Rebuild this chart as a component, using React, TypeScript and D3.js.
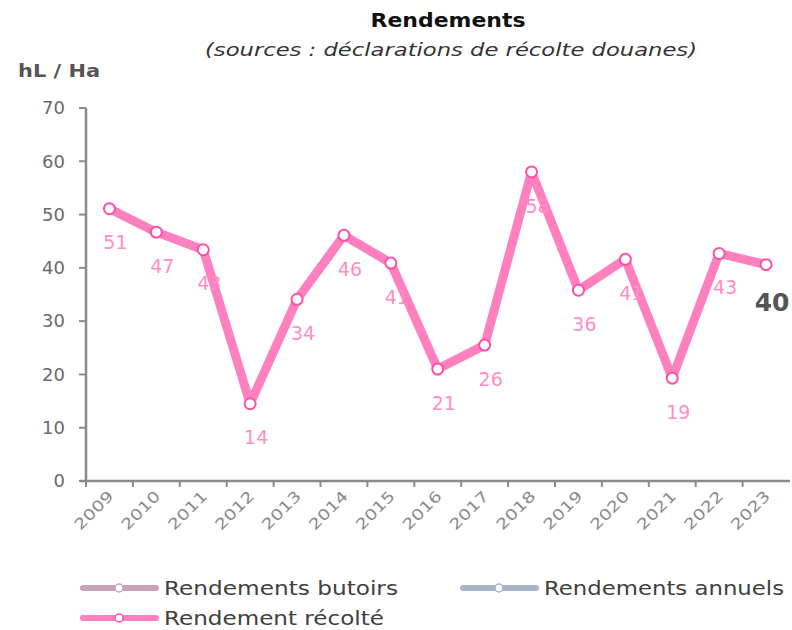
import React from "react";
import * as d3 from "d3";

const years = ["2009","2010","2011","2012","2013","2014","2015","2016","2017","2018","2019","2020","2021","2022","2023"];
const recolte = [51.1, 46.7, 43.4, 14.5, 34.1, 46.1, 40.9, 21.0, 25.5, 58.0, 35.8, 41.6, 19.3, 42.7, 40.6];
const recolteLabels = ["51","47","43","14","34","46","41","21","26","58","36","41","19","43","40"];
const yTicks = [0, 10, 20, 30, 40, 50, 60, 70];
const legendItems = [
  { name: "Rendements butoirs", color: "#c9a3ba" },
  { name: "Rendements annuels", color: "#a8b4c8" },
  { name: "Rendement récolté", color: "#ff80bf" },
];

const W = 792, H = 630;
const FONT = "'DejaVu Sans', sans-serif";

export default function App() {
  const x = d3.scaleBand<string>().domain(years).range([86, 789.5]).padding(0);
  const y = d3.scaleLinear().domain([0, 70]).range([481, 108]);
  const cx = (d: string) => (x(d) as number) + x.bandwidth() / 2;
  const line = d3.line<number>().x((_, i) => cx(years[i])).y((v) => y(v));
  const pink = "#ff80bf";
  const axisColor = "#8a8a8a";
  const last = recolte.length - 1;
  const legendLens = [234, 240, 220];

  return (
    <svg width={W} height={H} style={{ position: "absolute", left: 0, top: 0, background: "#fff" }}>
      <text x={448} y={27} textAnchor="middle" fontFamily={FONT} fontWeight="bold" fontSize={20} fill="#111" textLength={155} lengthAdjust="spacingAndGlyphs">Rendements</text>
      <text x={451} y={56} textAnchor="middle" fontFamily={FONT} fontStyle="italic" fontSize={17} fill="#333" textLength={492} lengthAdjust="spacingAndGlyphs">(sources : déclarations de récolte douanes)</text>
      <text x={18} y={77} fontFamily={FONT} fontWeight="bold" fontSize={17} fill="#555" textLength={82} lengthAdjust="spacingAndGlyphs">hL / Ha</text>

      {/* y axis */}
      <line x1={86} x2={86} y1={y(70)} y2={y(0)} stroke={axisColor} strokeWidth={2.5} />
      {yTicks.map((t) => (
        <g key={t}>
          <line x1={79} x2={86} y1={y(t)} y2={y(t)} stroke={axisColor} strokeWidth={2} />
          <text x={65} y={y(t)} dy="0.35em" textAnchor="end" fontFamily={FONT} fontSize={18} fill="#6a6a6a">{t}</text>
        </g>
      ))}

      {/* x axis */}
      <line x1={80} x2={790} y1={y(0)} y2={y(0)} stroke={axisColor} strokeWidth={2.5} />
      {years.map((yr) => (
        <line key={"t" + yr} x1={x(yr) as number} x2={x(yr) as number} y1={y(0)} y2={y(0) + 6} stroke={axisColor} strokeWidth={2} />
      ))}
      {years.map((yr) => (
        <text key={"l" + yr} transform={`translate(${cx(yr) + 5},${y(0) + 16}) rotate(-45)`} textAnchor="end" fontFamily={FONT} fontSize={15} fill="#8a8a8a" textLength={48} lengthAdjust="spacingAndGlyphs">{yr}</text>
      ))}

      {/* series */}
      <path d={line(recolte) || ""} fill="none" stroke={pink} strokeWidth={9} strokeLinejoin="round" />
      {recolte.map((v, i) => (
        <circle key={"c" + i} cx={cx(years[i])} cy={y(v)} r={5.5} fill="#fff" stroke="#ff4fa6" strokeWidth={2} />
      ))}
      {recolte.map((v, i) =>
        i === last ? (
          <text key={"v" + i} x={cx(years[i]) + 6} y={y(v) + 38} dy="0.35em" textAnchor="middle" fontFamily={FONT} fontWeight="bold" fontSize={25} fill="#555">{recolteLabels[i]}</text>
        ) : (
          <text key={"v" + i} x={cx(years[i]) + 6} y={y(v) + 34} dy="0.35em" textAnchor="middle" fontFamily={FONT} fontSize={19} fill="#ff8ec8">{recolteLabels[i]}</text>
        )
      )}

      {/* legend */}
      {legendItems.map((it, i) => {
        const lx = i === 1 ? 460 : 80;
        const ly = i === 2 ? 618 : 588;
        return (
          <g key={it.name}>
            <line x1={lx + 3} x2={lx + 76} y1={ly} y2={ly} stroke={it.color} strokeWidth={6} strokeLinecap="round" />
            <circle cx={lx + 39} cy={ly} r={4} fill="#fff" stroke={i === 2 ? "#ff4fa6" : it.color} strokeWidth={1.5} />
            <text x={lx + 84} y={ly} dy="0.35em" fontFamily={FONT} fontSize={19} fill="#404040" textLength={legendLens[i]} lengthAdjust="spacingAndGlyphs">{it.name}</text>
          </g>
        );
      })}
    </svg>
  );
}
